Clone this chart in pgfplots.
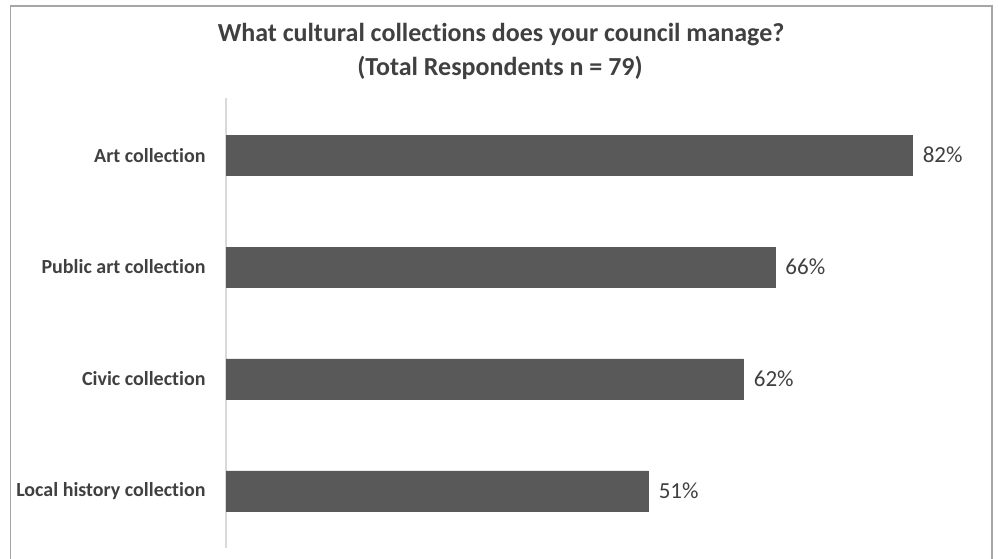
\documentclass[border=0pt]{standalone}
\usepackage{pgfplots}
\pgfplotsset{compat=1.18}
\usepackage{fontspec}
\setmainfont{Carlito}[Ligatures=NoCommon]
\definecolor{barc}{HTML}{595959}
\definecolor{txt}{HTML}{404040}
\definecolor{frame}{HTML}{A6A6A6}
\definecolor{axl}{HTML}{D9D9D9}
\begin{document}
\begin{tikzpicture}[x=1pt,y=1pt]
\useasboundingbox (0,0) rectangle (998,558);
\draw[frame,line width=1.5pt] (10.5,-2) -- (10.5,552) -- (992,552) -- (992,-2);
\node[txt,font=\fontsize{26}{30}\selectfont\bfseries] at (501,523) {What cultural collections does your council manage?};
\node[txt,font=\fontsize{26}{30}\selectfont\bfseries] at (500,490) {(Total Respondents n = 79)};
\begin{axis}[
  at={(226pt,10pt)}, anchor=south west,
  scale only axis, width=750.6pt, height=450pt,
  xbar, bar width=40pt,
  xmin=0, xmax=90,
  ymin=-0.51, ymax=3.51,
  axis x line=none,
  axis y line*=left,
  axis line style={axl,line width=2pt,-},
  ytick={0,1,2,3},
  yticklabels={Local history collection,Civic collection,Public art collection,Art collection},
  yticklabel style={txt,font=\fontsize{20}{24}\selectfont\bfseries,xshift=-17pt},
  major tick length=0pt,
  nodes near coords={\pgfmathprintnumber[assume math mode=true,fixed,precision=0]{\pgfplotspointmeta}\%},
  nodes near coords style={txt,font=\fontsize{23}{27}\selectfont,anchor=west,xshift=7pt},
  clip=false,
]
\addplot[fill=barc,draw=barc] coordinates {(50.63,0) (62.03,1) (65.82,2) (82.28,3)};
\end{axis}
\end{tikzpicture}
\end{document}
